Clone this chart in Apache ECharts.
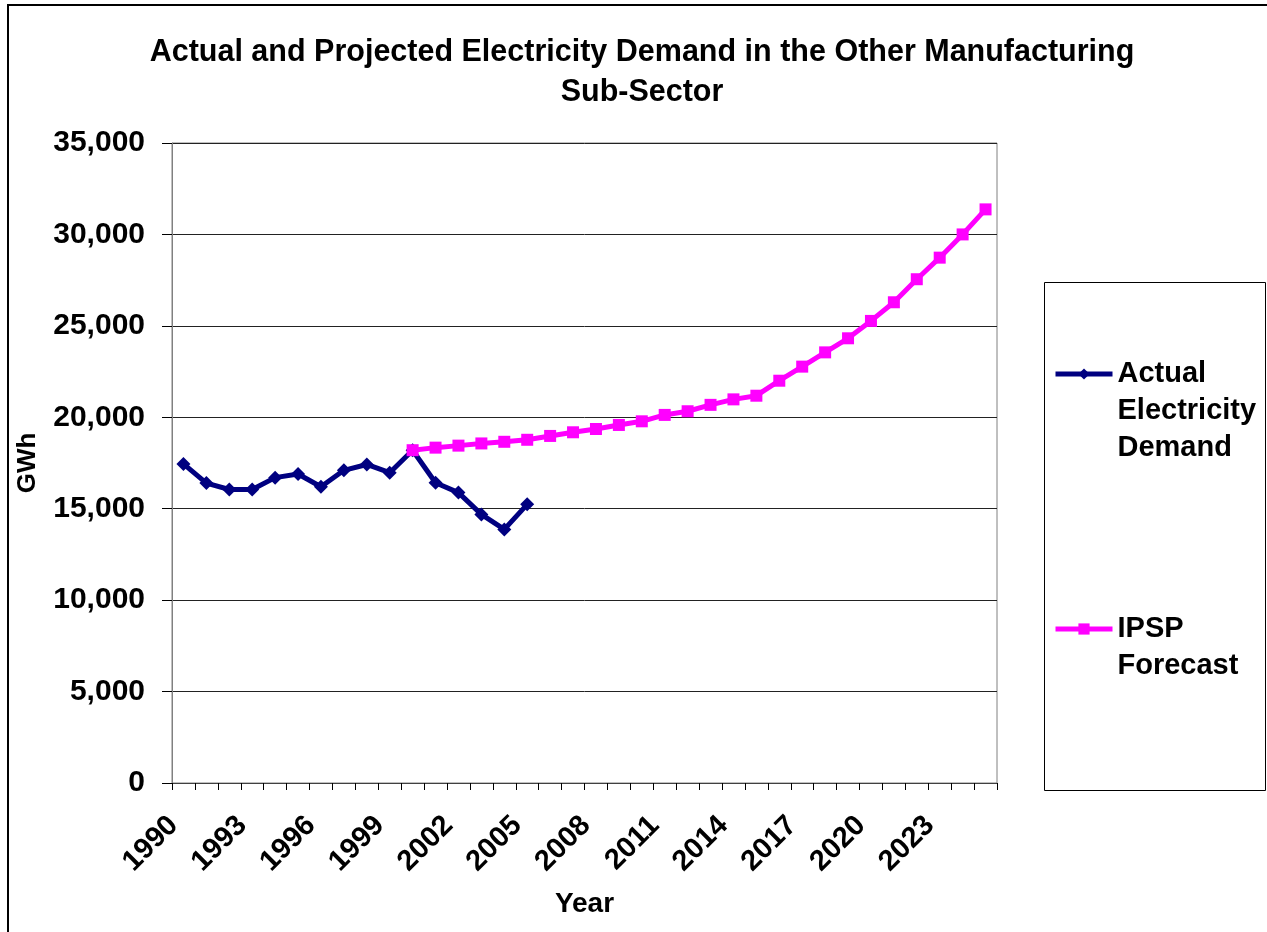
<!DOCTYPE html>
<html>
<head>
<meta charset="utf-8">
<script src="https://cdn.jsdelivr.net/npm/echarts@6/dist/echarts.min.js"></script>
<style>
  html, body { margin: 0; padding: 0; background: #fff; }
  #chart { width: 1267px; height: 932px; }
</style>
</head>
<body>
<div id="chart"></div>
<script>
// Years on the category axis
const years = [];
for (let y = 1990; y <= 2025; y++) years.push(String(y));

// Actual demand, GWh (1990–2005)
const actualDemand = [
  17450, 16400, 16050, 16050, 16700, 16900, 16200, 17100, 17420, 16970,
  18200, 16420, 15880, 14690, 13870, 15240
];

// IPSP forecast, GWh (2000–2025)
const ipspForecast = [
  18200, 18340, 18450, 18570, 18660, 18770, 18980, 19180, 19360, 19580,
  19780, 20130, 20330, 20680, 20980, 21180, 22000, 22770, 23550, 24320,
  25270, 26290, 27550, 28730, 30000, 31370
];

const yTicks = { min: 0, max: 35000, interval: 5000 };

const seriesNames = ['Actual Electricity Demand', 'IPSP Forecast'];
// Legend labels wrap over several lines; blank leading lines keep the
// legend symbol level with the first line of its label.
const legendLines = {
  'Actual Electricity Demand': ['Actual', 'Electricity', 'Demand'],
  'IPSP Forecast': ['IPSP', 'Forecast']
};

// Align series to the full year axis
const actualFull = years.map((y, i) => (i < actualDemand.length ? actualDemand[i] : null));
const forecastStart = years.indexOf('2000');
const forecastFull = years.map((y, i) => {
  const k = i - forecastStart;
  return k >= 0 && k < ipspForecast.length ? ipspForecast[k] : null;
});

const FONT = 'Liberation Sans, Arial, sans-serif';
const LH = 37;

const chart = echarts.init(document.getElementById('chart'), null, { renderer: 'canvas' });

function legendFor(name, iconY) {
  const lines = legendLines[name];
  const pad = lines.length - 1;
  const text = '\n'.repeat(pad) + lines.join('\n');
  const total = lines.length + pad;
  return {
    data: [name],
    left: 1053,
    top: iconY - (total * LH) / 2,
    orient: 'vertical',
    padding: 0,
    itemWidth: 57,
    itemHeight: 14,
    selectedMode: false,
    formatter: () => text,
    lineStyle: { width: 5 },
    textStyle: {
      fontFamily: FONT,
      fontWeight: 'bold',
      fontSize: 29,
      color: '#000',
      lineHeight: LH
    }
  };
}

chart.setOption({
  animation: false,
  backgroundColor: '#fff',
  title: {
    text: 'Actual and Projected Electricity Demand in the Other Manufacturing\nSub-Sector',
    left: 642,
    top: 33,
    textAlign: 'center',
    padding: 0,
    textStyle: {
      fontFamily: FONT,
      fontWeight: 'bold',
      fontSize: 30.5,
      lineHeight: 40,
      color: '#000'
    }
  },
  legend: [
    legendFor(seriesNames[0], 374),
    legendFor(seriesNames[1], 629)
  ],
  grid: {
    left: 172,
    right: 270,
    top: 143,
    bottom: 149,
    show: true,
    borderColor: '#808080',
    borderWidth: 1,
    containLabel: false
  },
  xAxis: {
    type: 'category',
    data: years,
    boundaryGap: true,
    name: 'Year',
    nameLocation: 'middle',
    nameGap: 107,
    nameTextStyle: {
      fontFamily: FONT,
      fontWeight: 'bold',
      fontSize: 28,
      color: '#000'
    },
    axisLine: { lineStyle: { color: '#404040', width: 1 } },
    axisTick: { show: true, interval: 0, length: 7, lineStyle: { color: '#000' } },
    axisLabel: {
      interval: 2,
      rotate: 45,
      margin: 28,
      padding: [0, 14, 0, 0],
      fontFamily: FONT,
      fontWeight: 'bold',
      fontSize: 29,
      color: '#000'
    },
    splitLine: { show: false }
  },
  yAxis: {
    type: 'value',
    min: yTicks.min,
    max: yTicks.max,
    interval: yTicks.interval,
    name: 'GWh',
    nameLocation: 'middle',
    nameGap: 131,
    nameRotate: 90,
    nameTextStyle: {
      fontFamily: FONT,
      fontWeight: 'bold',
      fontSize: 26,
      color: '#000'
    },
    axisLine: { show: true, lineStyle: { color: '#808080', width: 1 } },
    axisTick: { show: true, length: 10, lineStyle: { color: '#000' } },
    axisLabel: {
      margin: 27,
      fontFamily: FONT,
      fontWeight: 'bold',
      fontSize: 30,
      color: '#000',
      formatter: v => v.toLocaleString('en-US')
    },
    splitLine: { show: true, lineStyle: { color: '#222', width: 1 } }
  },
  series: [
    {
      name: seriesNames[0],
      type: 'line',
      data: actualFull,
      connectNulls: false,
      symbol: 'diamond',
      symbolSize: 14,
      showAllSymbol: true,
      lineStyle: { color: '#000080', width: 5 },
      itemStyle: { color: '#000080' },
      z: 2
    },
    {
      name: seriesNames[1],
      type: 'line',
      data: forecastFull,
      connectNulls: false,
      symbol: 'rect',
      symbolSize: 12,
      showAllSymbol: true,
      lineStyle: { color: '#FF00FF', width: 5 },
      itemStyle: { color: '#FF00FF' },
      z: 3
    }
  ],
  graphic: [
    {
      type: 'rect',
      shape: { x: 8, y: 5, width: 1300, height: 1000 },
      style: { fill: 'none', stroke: '#000', lineWidth: 2 },
      silent: true,
      z: 100
    },
    {
      type: 'rect',
      shape: { x: 1044.5, y: 282.5, width: 221, height: 508 },
      style: { fill: 'none', stroke: '#000', lineWidth: 1 },
      silent: true,
      z: 100
    }
  ]
});
</script>
</body>
</html>
